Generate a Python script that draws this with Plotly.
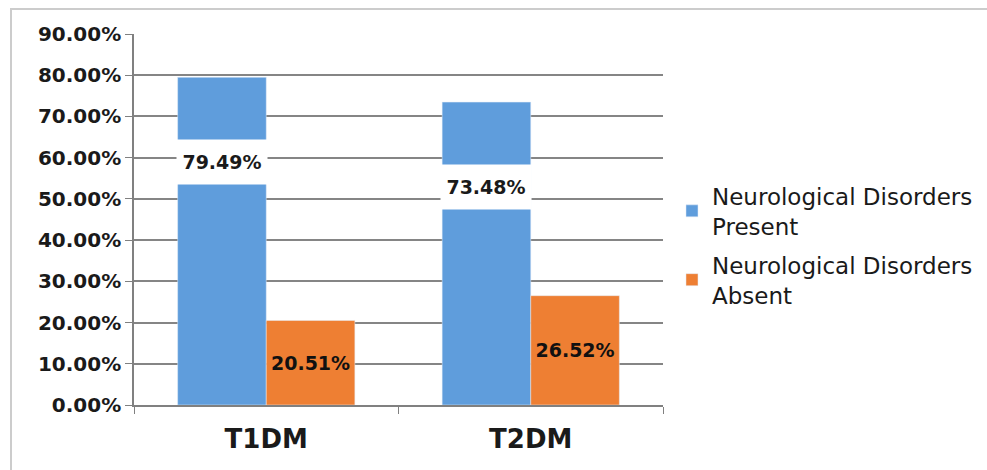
import plotly.graph_objects as go

categories = ["T1DM", "T2DM"]
present = [79.49, 73.48]
absent = [20.51, 26.52]
series_names = ["Neurological Disorders<br>Present", "Neurological Disorders<br>Absent"]
y_ticks = [0, 10, 20, 30, 40, 50, 60, 70, 80, 90]

BLUE = "#5f9ddc"
ORANGE = "#ee7f33"
FONT = "DejaVu Sans"
BARGAP = 0.33
LABEL_DROP = 20.5

fig = go.Figure()
fig.add_trace(go.Bar(
    x=categories, y=present, name=series_names[0], marker_color=BLUE,
    legendgroup="a",
))
fig.add_trace(go.Bar(
    x=categories, y=absent, name=series_names[1], marker_color=ORANGE,
    legendgroup="b",
    text=[f"{v:.2f}%" for v in absent], textposition="inside",
    insidetextanchor="middle", textangle=0,
    textfont=dict(family=FONT, size=19, color="#111111", weight="bold"),
))

offset = (1 - BARGAP) / 4
for i, v in enumerate(present):
    fig.add_annotation(
        x=i - offset, y=v - LABEL_DROP, xref="x", yref="y",
        text=f"<b>{v:.2f}%</b>", showarrow=False,
        font=dict(family=FONT, size=19, color="#1a1a1a"),
        bgcolor="white", width=86, height=40, borderpad=2,
    )

fig.add_shape(
    type="rect", xref="paper", yref="paper",
    x0=(11 - 134) / 529, x1=1.7, y0=-0.4, y1=(405 - 9) / 371,
    line=dict(color="#cccccc", width=2), layer="below",
)

fig.update_layout(
    width=987, height=470,
    margin=dict(l=134, r=324, t=34, b=65, autoexpand=False),
    paper_bgcolor="white", plot_bgcolor="white",
    barmode="group", bargap=BARGAP, bargroupgap=0,
    font=dict(family=FONT, color="#1a1a1a"),
    legend=dict(
        x=1.017, xanchor="left", y=0.43, yanchor="middle",
        font=dict(family=FONT, size=23, color="#1a1a1a"),
        tracegroupgap=6, bgcolor="rgba(0,0,0,0)",
    ),
    showlegend=True,
)
fig.update_xaxes(
    showline=True, linecolor="#808080", linewidth=1.5,
    ticks="outside", tickson="boundaries", ticklen=7, tickcolor="#808080",
    tickfont=dict(family=FONT, size=26, color="#1a1a1a", weight="bold"),
    showgrid=False, ticklabelstandoff=10,
)
fig.update_yaxes(
    range=[0, 90], tickvals=y_ticks,
    ticktext=[f"{t:.2f}%" for t in y_ticks],
    showline=True, linecolor="#808080", linewidth=1.5,
    ticks="outside", ticklen=7, tickcolor="#808080",
    showgrid=True, gridcolor="#858585", gridwidth=1.5,
    tickfont=dict(family=FONT, size=20, color="#1a1a1a", weight="bold"),
    zeroline=False,
)

fig.write_html("out.html")
